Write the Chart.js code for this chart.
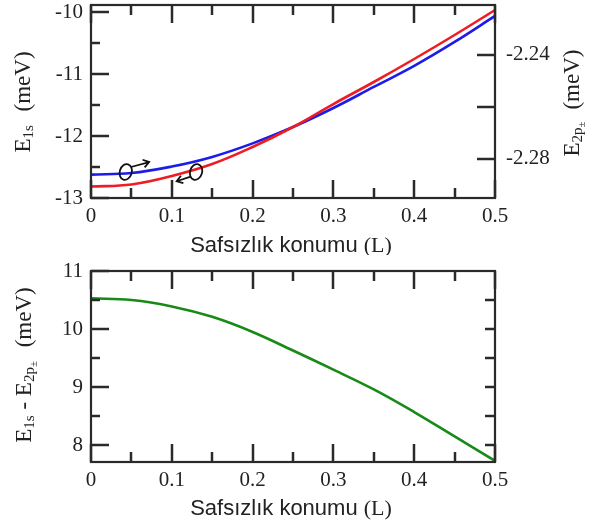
<!DOCTYPE html>
<html>
<head>
<meta charset="utf-8">
<script src="https://cdn.jsdelivr.net/npm/chart.js"></script>
<style>
  html, body { margin: 0; padding: 0; background: #fff; }
  #wrap { position: relative; width: 597px; height: 527px; }
  canvas { position: absolute; left: 0; }
  #ust { top: 0; }
  #alt { top: 255px; }
</style>
</head>
<body>
<div id="wrap">
  <canvas id="ust" width="597" height="255"></canvas>
  <canvas id="alt" width="597" height="272"></canvas>
</div>
<script>
// safsızlık konumu (L) ve enerjiler (meV)
const konum = [0, 0.05, 0.1, 0.15, 0.2, 0.25, 0.3, 0.35, 0.4, 0.45, 0.5];
const e1s = [-12.815, -12.782, -12.645, -12.452, -12.177, -11.855, -11.484, -11.129, -10.758, -10.371, -9.968];
const e2p = [-2.2860, -2.2854, -2.2829, -2.2792, -2.2740, -2.2677, -2.2604, -2.2523, -2.2442, -2.2350, -2.2250];
const fark = [10.53, 10.50, 10.39, 10.21, 9.95, 9.63, 9.30, 8.96, 8.57, 8.15, 7.73];

// eksen çentikleri
const xBuyuk = [0, 0.1, 0.2, 0.3, 0.4, 0.5];
const xKucuk = [0.05, 0.15, 0.25, 0.35, 0.45];
const e1sBuyuk = [-13, -12, -11, -10];
const e1sKucuk = [-12.5, -11.5, -10.5];
const e2pEtiket = [-2.28, -2.24];
const e2pCentik = [-2.28, -2.26, -2.24];
const farkBuyuk = [8, 9, 10, 11];
const farkKucuk = [8.5, 9.5, 10.5];
const farkSag = [8, 8.5, 9, 9.5, 10, 10.5];

// eğri yönünü gösteren halka + ok (sol eksen birimleriyle)
const isaretler = [
  { halka: [0.043, -12.58], ok: [[0.0495, -12.50], [0.072, -12.42]] },
  { halka: [0.130, -12.58], ok: [[0.1225, -12.66], [0.106, -12.73]] }
];

const SERIF = 'Liberation Serif, Times New Roman, serif';
const SANS = 'Liberation Sans, Arial, sans-serif';
const MAVI = 'rgb(28,28,232)';
const KIRMIZI = 'rgb(238,28,36)';
const YESIL = 'rgb(24,138,24)';
const KOYU = '#222';

Chart.defaults.font.family = SERIF;
Chart.defaults.font.size = 21;
Chart.defaults.color = KOYU;

const nokta = ys => konum.map((x, i) => ({ x, y: ys[i] }));

// alt simgeli yazı parçaları, ortalanmış
function yaziCiz(ctx, parcalar, x, y, aci) {
  let w = 0;
  parcalar.forEach(p => {
    ctx.font = `${p.boy}px ${p.font || SERIF}`;
    p.w = ctx.measureText(p.t).width + (p.bosluk || 0);
    w += p.w;
  });
  ctx.save();
  ctx.translate(x, y);
  ctx.rotate(aci || 0);
  ctx.fillStyle = KOYU;
  ctx.textAlign = 'left';
  ctx.textBaseline = 'alphabetic';
  let cx = -w / 2;
  parcalar.forEach(p => {
    ctx.font = `${p.boy}px ${p.font || SERIF}`;
    ctx.fillText(p.t, cx, p.dy || 0);
    cx += p.w;
  });
  ctx.restore();
}

// çerçeve, içe dönük çentikler ve eksen başlıkları
function cerceve(centikler, basliklar) {
  return {
    id: 'cerceve',
    afterDraw(chart) {
      const { ctx, chartArea: a } = chart;
      ctx.save();
      ctx.strokeStyle = '#2a2a2a';
      ctx.lineWidth = 2.5;
      centikler.forEach(c => {
        const s = chart.scales[c.olcek];
        c.degerler.forEach(v => {
          const p = Math.round(s.getPixelForValue(v));
          ctx.beginPath();
          if (c.kenar === 'alt') { ctx.moveTo(p, a.bottom); ctx.lineTo(p, a.bottom - c.boy); }
          if (c.kenar === 'ust') { ctx.moveTo(p, a.top); ctx.lineTo(p, a.top + c.boy); }
          if (c.kenar === 'sol') { ctx.moveTo(a.left, p); ctx.lineTo(a.left + c.boy, p); }
          if (c.kenar === 'sag') { ctx.moveTo(a.right, p); ctx.lineTo(a.right - c.boy, p); }
          ctx.stroke();
        });
      });
      ctx.lineWidth = 2.2;
      ctx.strokeRect(a.left, a.top, a.right - a.left, a.bottom - a.top);
      ctx.restore();
      basliklar.forEach(b => yaziCiz(ctx, b.parcalar, b.x, b.y, b.aci));
    }
  };
}

const okPlugin = {
  id: 'oklar',
  afterDatasetsDraw(chart) {
    const { ctx, scales: { x, y } } = chart;
    ctx.save();
    ctx.strokeStyle = '#111';
    ctx.lineWidth = 1.8;
    isaretler.forEach(m => {
      const hx = x.getPixelForValue(m.halka[0]), hy = y.getPixelForValue(m.halka[1]);
      ctx.beginPath();
      ctx.ellipse(hx, hy, 6, 8, 0.3, 0, Math.PI * 2);
      ctx.stroke();
      const x0 = x.getPixelForValue(m.ok[0][0]), y0 = y.getPixelForValue(m.ok[0][1]);
      const x1 = x.getPixelForValue(m.ok[1][0]), y1 = y.getPixelForValue(m.ok[1][1]);
      const ang = Math.atan2(y1 - y0, x1 - x0);
      ctx.beginPath();
      ctx.moveTo(x0, y0);
      ctx.lineTo(x1, y1);
      ctx.moveTo(x1 - 7 * Math.cos(ang - 0.6), y1 - 7 * Math.sin(ang - 0.6));
      ctx.lineTo(x1, y1);
      ctx.lineTo(x1 - 7 * Math.cos(ang + 0.6), y1 - 7 * Math.sin(ang + 0.6));
      ctx.stroke();
    });
    ctx.restore();
  }
};

const gizliIzgara = { display: false, drawTicks: false };
const sabitTik = degerler => s => { s.ticks = degerler.map(v => ({ value: v })); };
const dolguYok = s => { s.paddingTop = 0; s.paddingBottom = 0; s.paddingLeft = 0; s.paddingRight = 0; };

function xEkseni(yukseklik) {
  return {
    type: 'linear', min: 0, max: 0.5, position: 'bottom',
    grid: gizliIzgara, border: { display: false },
    afterBuildTicks: sabitTik(xBuyuk),
    afterFit: s => { dolguYok(s); s.height = yukseklik; },
    ticks: { padding: 6, maxRotation: 0, callback: v => String(v) }
  };
}

const xBaslik = y => ({
  x: 291, y,
  parcalar: [
    { t: 'Safsızlık konumu ', boy: 22, font: SANS },
    { t: '(L)', boy: 22 }
  ]
});

const ortak = {
  responsive: false,
  animation: false,
  events: [],
  plugins: { legend: { display: false }, tooltip: { enabled: false } }
};

const cizgi = { pointRadius: 0, borderWidth: 2.6, tension: 0.4 };

const xCentik = [
  { olcek: 'x', kenar: 'alt', degerler: xBuyuk, boy: 18 },
  { olcek: 'x', kenar: 'alt', degerler: xKucuk, boy: 10 },
  { olcek: 'x', kenar: 'ust', degerler: xBuyuk, boy: 18 },
  { olcek: 'x', kenar: 'ust', degerler: xKucuk, boy: 10 }
];

// üst grafik: E1s (sol eksen) ve E2p± (sağ eksen)
new Chart(document.getElementById('ust'), {
  type: 'line',
  data: {
    datasets: [
      { ...cizgi, data: nokta(e1s), yAxisID: 'y', borderColor: KIRMIZI },
      { ...cizgi, data: nokta(e2p), yAxisID: 'y2', borderColor: MAVI }
    ]
  },
  options: {
    ...ortak,
    layout: { padding: { top: 5, left: 0, right: 0, bottom: 0 } },
    scales: {
      x: xEkseni(57),
      y: {
        min: -13, max: -9.887, position: 'left',
        grid: gizliIzgara, border: { display: false },
        afterBuildTicks: sabitTik(e1sBuyuk),
        afterFit: s => { dolguYok(s); s.width = 91; },
        ticks: { padding: 8, callback: v => String(v) }
      },
      y2: {
        min: -2.295, max: -2.2208, position: 'right',
        grid: gizliIzgara, border: { display: false },
        afterBuildTicks: sabitTik(e2pEtiket),
        afterFit: s => { dolguYok(s); s.width = 102; },
        ticks: { padding: 11, callback: v => v.toFixed(2) }
      }
    }
  },
  plugins: [
    cerceve(
      [
        ...xCentik,
        { olcek: 'y', kenar: 'sol', degerler: e1sBuyuk, boy: 18 },
        { olcek: 'y', kenar: 'sol', degerler: e1sKucuk, boy: 9 },
        { olcek: 'y2', kenar: 'sag', degerler: e2pCentik, boy: 18 }
      ],
      [
        xBaslik(252),
        { x: 30, y: 102, aci: -Math.PI / 2, parcalar: [
          { t: 'E', boy: 23 },
          { t: '1s', boy: 15, dy: 3, bosluk: 8 },
          { t: ' (meV)', boy: 23 }
        ] },
        { x: 579, y: 103, aci: -Math.PI / 2, parcalar: [
          { t: 'E', boy: 23 },
          { t: '2p', boy: 15, dy: 3 },
          { t: '±', boy: 11, dy: 6, bosluk: 6 },
          { t: ' (meV)', boy: 23 }
        ] }
      ]
    ),
    okPlugin
  ]
});

// alt grafik: E1s - E2p± farkı
new Chart(document.getElementById('alt'), {
  type: 'line',
  data: {
    datasets: [
      { ...cizgi, data: nokta(fark), borderColor: YESIL }
    ]
  },
  options: {
    ...ortak,
    layout: { padding: { top: 16, left: 0, right: 102, bottom: 0 } },
    scales: {
      x: xEkseni(65),
      y: {
        min: 7.71, max: 11, position: 'left',
        grid: gizliIzgara, border: { display: false },
        afterBuildTicks: sabitTik(farkBuyuk),
        afterFit: s => { dolguYok(s); s.width = 91; },
        ticks: { padding: 8, callback: v => String(v) }
      }
    }
  },
  plugins: [
    cerceve(
      [
        ...xCentik,
        { olcek: 'y', kenar: 'sol', degerler: farkBuyuk, boy: 18 },
        { olcek: 'y', kenar: 'sol', degerler: farkKucuk, boy: 9 },
        { olcek: 'y', kenar: 'sag', degerler: farkSag, boy: 10 }
      ],
      [
        xBaslik(260),
        { x: 31, y: 110, aci: -Math.PI / 2, parcalar: [
          { t: 'E', boy: 23 },
          { t: '1s', boy: 15, dy: 3 },
          { t: ' - E', boy: 23 },
          { t: '2p', boy: 15, dy: 3 },
          { t: '±', boy: 11, dy: 6, bosluk: 8 },
          { t: ' (meV)', boy: 23 }
        ] }
      ]
    )
  ]
});
</script>
</body>
</html>
